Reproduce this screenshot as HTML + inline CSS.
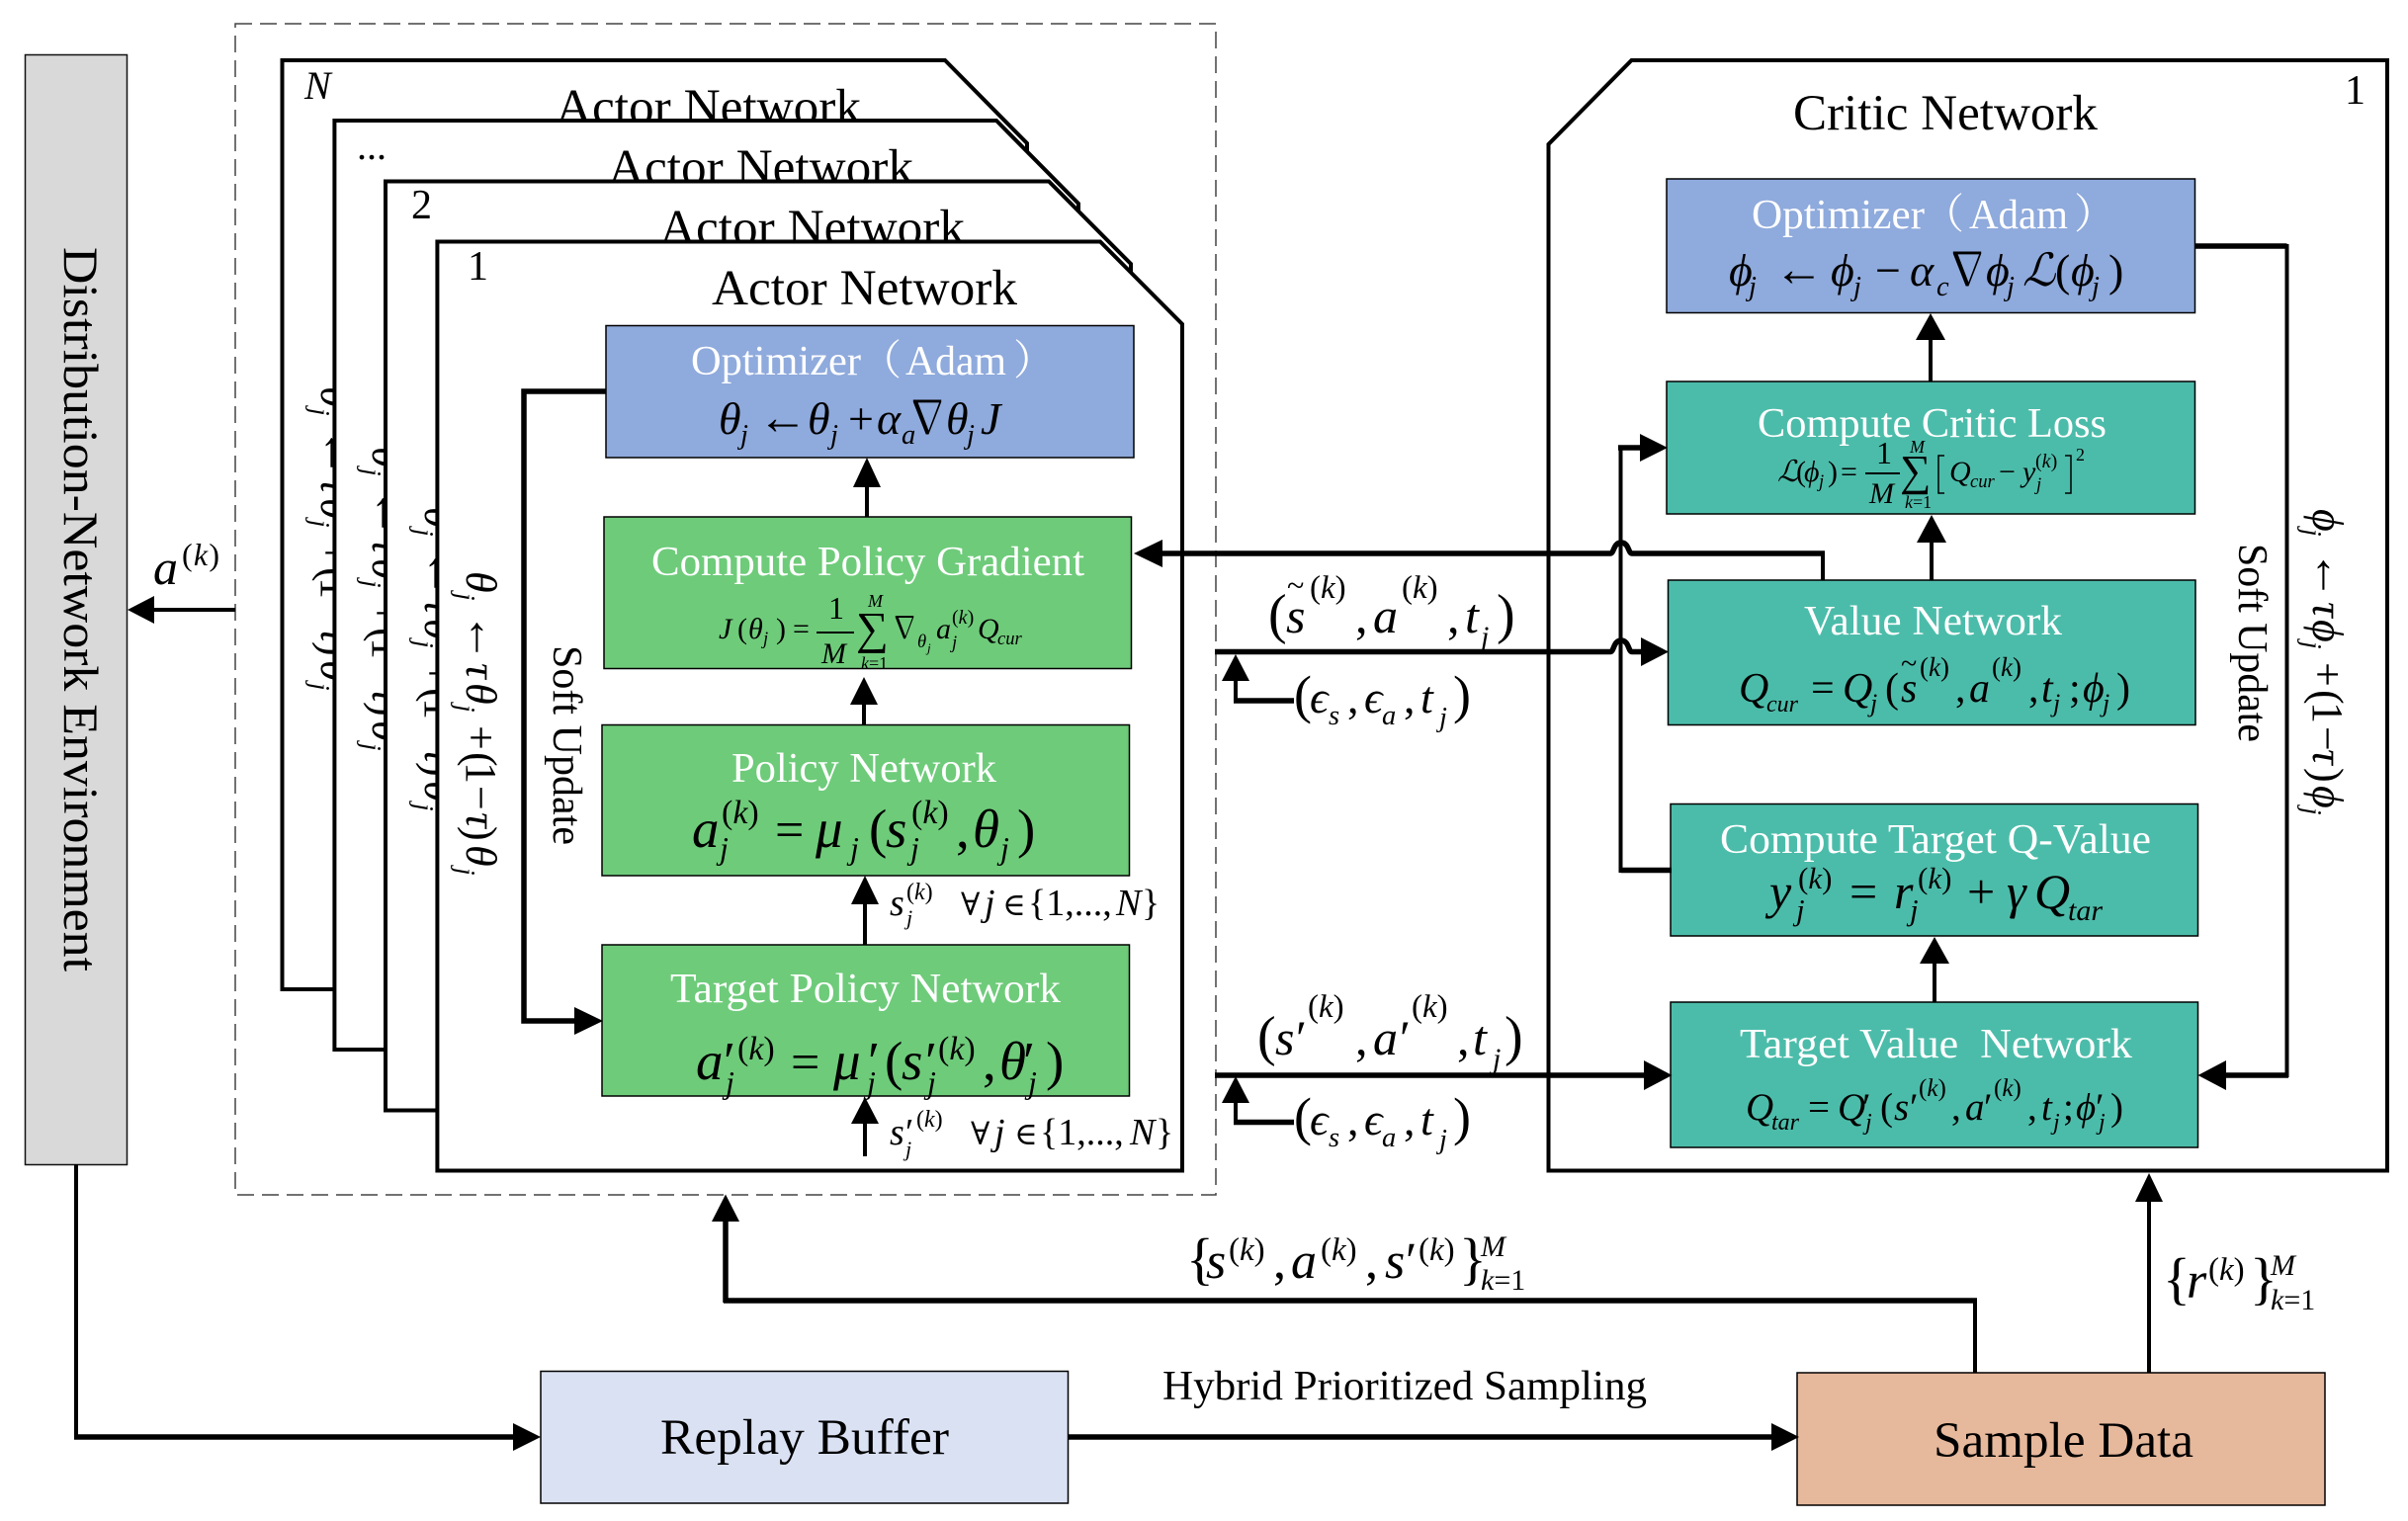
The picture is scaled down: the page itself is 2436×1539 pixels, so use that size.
<!DOCTYPE html>
<html><head><meta charset="utf-8"><style>
html,body{margin:0;padding:0;background:#fff;width:2436px;height:1539px;overflow:hidden}
svg{display:block}
text{font-family:"Liberation Serif","DejaVu Serif","Noto Serif CJK SC",serif;fill:#000}
.i text,text.i{font-style:italic}
.i .n,.n{font-style:normal}
.s{font-size:.62em}
.w{fill:#fff;font-size:42px}
.b{stroke:#000;stroke-width:1.5}
.l{fill:none;stroke:#000;stroke-width:4}
.h{fill:none;stroke:#000;stroke-width:5.5}
.p{fill:#fff;stroke:#000;stroke-width:4}
.f{font-size:51px}
.g,.i .g{font-family:"Noto Serif CJK SC","Liberation Serif",serif;font-style:normal}
.a{font-size:50px}
</style></head><body>
<svg width="2436" height="1539" viewBox="0 0 2436 1539" xmlns="http://www.w3.org/2000/svg">
<rect x="238" y="24" width="992" height="1185" fill="none" stroke="#444" stroke-width="1.5" stroke-dasharray="17 8"/>

<!-- Environment -->
<rect x="25.5" y="55.5" width="103" height="1123" fill="#d9d9d9" stroke="#111" stroke-width="1.5"/>
<text transform="translate(65,250) rotate(90)" font-size="50" textLength="733" lengthAdjust="spacingAndGlyphs">Distribution-Network Environment</text>
<path class="l" d="M238 617H150"/><polygon points="129,617 156,603 156,631"/>
<g class="i" font-size="50"><text x="155" y="591">a</text><text class="s" x="184" y="572" style="font-size:32px" textLength="38"><tspan class="n">(</tspan>k<tspan class="n">)</tspan></text></g>

<!-- Actor N -->
<polygon class="p" points="285.5,61 956,61 1039,145 1039,1001 285.5,1001"/>
<text x="308" y="100" class="i" font-size="40">N</text>
<text class="f" x="562" y="125" textLength="309" lengthAdjust="spacingAndGlyphs">Actor Network</text>
<g transform="translate(325,391) rotate(90)" class="i" font-size="44"><text x="0" y="0">θ</text><text class="s" x="22" y="10">j</text><text class="n a" x="42" y="-2">←</text><text x="93" y="0">τ</text><text x="113" y="0">θ</text><text class="s" x="135" y="10">j</text><text class="n" x="156" y="0">+</text><text class="n" x="183" y="0">(</text><text class="n" x="193" y="0">1</text><text class="n" x="217" y="0">−</text><text x="244" y="0">τ</text><text class="n" x="258" y="0">)</text><text x="277" y="0">θ</text><text class="s" x="300" y="10">j</text></g>

<!-- Actor ... -->
<polygon class="p" points="338.4,122 1008,122 1091,206 1091,1062 338.4,1062"/>
<text x="361" y="161" font-size="40">...</text>
<text class="f" x="615" y="186" textLength="309" lengthAdjust="spacingAndGlyphs">Actor Network</text>
<g transform="translate(377,452) rotate(90)" class="i" font-size="44"><text x="0" y="0">θ</text><text class="s" x="22" y="10">j</text><text class="n a" x="42" y="-2">←</text><text x="93" y="0">τ</text><text x="113" y="0">θ</text><text class="s" x="135" y="10">j</text><text class="n" x="156" y="0">+</text><text class="n" x="183" y="0">(</text><text class="n" x="193" y="0">1</text><text class="n" x="217" y="0">−</text><text x="244" y="0">τ</text><text class="n" x="258" y="0">)</text><text x="277" y="0">θ</text><text class="s" x="300" y="10">j</text></g>

<!-- Actor 2 -->
<polygon class="p" points="390,183.5 1061,183.5 1144,267 1144,1123.5 390,1123.5"/>
<text x="416" y="221" font-size="42">2</text>
<text class="f" x="667" y="247" textLength="309" lengthAdjust="spacingAndGlyphs">Actor Network</text>
<g transform="translate(430,513) rotate(90)" class="i" font-size="44"><text x="0" y="0">θ</text><text class="s" x="22" y="10">j</text><text class="n a" x="42" y="-2">←</text><text x="93" y="0">τ</text><text x="113" y="0">θ</text><text class="s" x="135" y="10">j</text><text class="n" x="156" y="0">+</text><text class="n" x="183" y="0">(</text><text class="n" x="193" y="0">1</text><text class="n" x="217" y="0">−</text><text x="244" y="0">τ</text><text class="n" x="258" y="0">)</text><text x="277" y="0">θ</text><text class="s" x="300" y="10">j</text></g>

<!-- Actor 1 -->
<polygon class="p" points="442.4,244.5 1113,244.5 1196,328 1196,1184.5 442.4,1184.5"/>
<text x="473" y="283" font-size="42">1</text>
<text class="f" x="720" y="308" textLength="309" lengthAdjust="spacingAndGlyphs">Actor Network</text>
<g transform="translate(472,578) rotate(90)" class="i" font-size="44"><text x="0" y="0">θ</text><text class="s" x="22" y="10">j</text><text class="n a" x="42" y="-2">←</text><text x="93" y="0">τ</text><text x="113" y="0">θ</text><text class="s" x="135" y="10">j</text><text class="n" x="156" y="0">+</text><text class="n" x="183" y="0">(</text><text class="n" x="193" y="0">1</text><text class="n" x="217" y="0">−</text><text x="244" y="0">τ</text><text class="n" x="258" y="0">)</text><text x="277" y="0">θ</text><text class="s" x="300" y="10">j</text></g>
<text transform="translate(560,653) rotate(90)" font-size="42" textLength="202" lengthAdjust="spacingAndGlyphs">Soft Update</text>

<rect class="b" x="613" y="329.5" width="534" height="133.5" fill="#8faadc"/>
<text class="w" x="699" y="379" textLength="172" lengthAdjust="spacingAndGlyphs">Optimizer</text><text class="w g" x="870" y="379">（</text><text class="w" x="916" y="379" textLength="102" lengthAdjust="spacingAndGlyphs">Adam</text><text class="w g" x="1025" y="379">）</text>
<g class="i" font-size="46"><text x="727" y="439">θ</text><text class="s" x="749" y="449">j</text><text class="n a" x="767" y="439">←</text><text x="817" y="439">θ</text><text class="s" x="840" y="449">j</text><text class="n" x="858" y="439">+</text><text x="887" y="439">α</text><text class="s" x="912" y="449">a</text><text class="g" x="915" y="439">∇</text><text x="957" y="439">θ</text><text class="s" x="978" y="449">j</text><text x="992" y="439">J</text></g>

<rect class="b" x="611" y="523" width="533.5" height="153.5" fill="#6ecb7a"/>
<text class="w" x="659" y="582" textLength="438" lengthAdjust="spacingAndGlyphs">Compute Policy Gradient</text>
<g class="i" font-size="30"><text x="727" y="646">J</text><text class="n" x="746" y="646">(</text><text x="757" y="646">θ</text><text class="s" x="772" y="652">j</text><text class="n" x="785" y="646">)</text><text class="n" x="802" y="646">=</text><text class="n" x="838" y="626" font-size="32">1</text><path d="M826 640H864" stroke="#000" stroke-width="2"/><text x="831" y="671">M</text><text class="n" x="866" y="651" style="font-size:46px">∑</text><text x="878" y="614" style="font-size:18px">M</text><text x="871" y="677" style="font-size:18px">k<tspan class="n">=1</tspan></text><text class="g" x="900" y="646">∇</text><text class="s" x="928" y="655">θ</text><text x="938" y="660" style="font-size:13px">j</text><text x="947" y="646">a</text><text x="963" y="631" style="font-size:20px"><tspan class="n">(</tspan>k<tspan class="n">)</tspan></text><text class="s" x="963" y="656">j</text><text x="989" y="646">Q</text><text class="s" x="1009" y="652">cur</text></g>

<rect class="b" x="609" y="733.5" width="533.5" height="152.5" fill="#6ecb7a"/>
<text class="w" x="740" y="791" textLength="268" lengthAdjust="spacingAndGlyphs">Policy Network</text>
<g class="i" font-size="55"><text x="700" y="857">a</text><text x="730" y="833" style="font-size:34px"><tspan class="n">(</tspan>k<tspan class="n">)</tspan></text><text class="s" x="728" y="869" style="font-size:32px">j</text><text class="n" x="784" y="857" style="font-size:52px">=</text><text x="825" y="857">μ</text><text class="s" x="860" y="869" style="font-size:32px">j</text><text class="n" x="879" y="857">(</text><text x="896" y="857">s</text><text x="922" y="833" style="font-size:34px"><tspan class="n">(</tspan>k<tspan class="n">)</tspan></text><text class="s" x="921" y="869" style="font-size:32px">j</text><text class="n" x="967" y="857">,</text><text x="984" y="857">θ</text><text class="s" x="1012" y="869" style="font-size:32px">j</text><text class="n" x="1029" y="857">)</text></g>

<g class="i" font-size="38"><text x="900" y="926">s</text><text x="917" y="910" style="font-size:24px"><tspan class="n">(</tspan>k<tspan class="n">)</tspan></text><text class="s" x="917" y="936" style="font-size:22px">j</text><text class="n" x="972" y="926" style="font-size:32px">∀</text><text x="996" y="926">j</text><text class="n" x="1014" y="926" style="font-size:32px">∈</text><text class="n" x="1040" y="926" style="font-size:38px">{1,...,</text><text x="1129" y="926">N</text><text class="n" x="1155" y="926">}</text></g>

<rect class="b" x="609" y="956" width="533.5" height="153" fill="#6ecb7a"/>
<text class="w" x="678" y="1014" textLength="395" lengthAdjust="spacingAndGlyphs">Target Policy Network</text>
<g class="i" font-size="55"><text x="704" y="1092">a</text><text class="n" x="732" y="1092">′</text><text x="746" y="1072" style="font-size:34px"><tspan class="n">(</tspan>k<tspan class="n">)</tspan></text><text class="s" x="734" y="1106" style="font-size:32px">j</text><text class="n" x="800" y="1092" style="font-size:52px">=</text><text x="843" y="1092">μ</text><text class="n" x="878" y="1092">′</text><text class="s" x="877" y="1106" style="font-size:32px">j</text><text class="n" x="895" y="1092">(</text><text x="912" y="1092">s</text><text class="n" x="936" y="1092">′</text><text x="949" y="1072" style="font-size:34px"><tspan class="n">(</tspan>k<tspan class="n">)</tspan></text><text class="s" x="938" y="1106" style="font-size:32px">j</text><text class="n" x="994" y="1092">,</text><text x="1011" y="1092">θ</text><text class="n" x="1035" y="1092">′</text><text class="s" x="1040" y="1106" style="font-size:32px">j</text><text class="n" x="1058" y="1092">)</text></g>

<g class="i" font-size="38"><text x="900" y="1158">s</text><text class="n" x="916" y="1158">′</text><text x="927" y="1140" style="font-size:24px"><tspan class="n">(</tspan>k<tspan class="n">)</tspan></text><text class="s" x="916" y="1170" style="font-size:22px">j</text><text class="n" x="982" y="1158" style="font-size:32px">∀</text><text x="1006" y="1158">j</text><text class="n" x="1026" y="1158" style="font-size:32px">∈</text><text class="n" x="1052" y="1158" style="font-size:38px">{1,...,</text><text x="1143" y="1158">N</text><text class="n" x="1169" y="1158">}</text></g>

<!-- Actor arrows -->
<path class="l" d="M877 523V485"/><polygon points="877,463 863,493 891,493"/>
<path class="l" d="M874 733V705"/><polygon points="874,685 860,713 888,713"/>
<path class="l" d="M875 956V905"/><polygon points="875,886 861,915 889,915"/>
<path class="l" d="M875 1170V1130"/><polygon points="875,1110 861,1137 889,1137"/>
<path class="h" d="M613 396H530V1033H590"/><polygon points="610,1033 581,1019 581,1047"/>

<!-- Critic -->
<polygon class="p" points="1650.5,61 2415,61 2415,1184.5 1566.5,1184.5 1566.5,146"/>
<text class="f" x="1814" y="131" textLength="308" lengthAdjust="spacingAndGlyphs">Critic Network</text>
<text x="2372" y="105" font-size="42">1</text>

<rect class="b" x="1686" y="181" width="534.5" height="135.5" fill="#8faadc"/>
<text class="w" x="1772" y="231" textLength="175" lengthAdjust="spacingAndGlyphs">Optimizer</text><text class="w g" x="1945" y="231">（</text><text class="w" x="1992" y="231" textLength="100" lengthAdjust="spacingAndGlyphs">Adam</text><text class="w g" x="2098" y="231">）</text>
<g class="i" font-size="46"><text x="1749" y="289">ϕ</text><text class="s" x="1769" y="299">j</text><text class="n a" x="1795" y="289">←</text><text x="1852" y="289">ϕ</text><text class="s" x="1875" y="299">j</text><text class="n" x="1897" y="289">−</text><text x="1932" y="289">α</text><text class="s" x="1959" y="299">c</text><text class="g" x="1967" y="289">∇</text><text x="2009" y="289">ϕ</text><text class="s" x="2030" y="299">j</text><text x="2046" y="289">ℒ</text><text class="n" x="2079" y="289">(</text><text x="2095" y="289">ϕ</text><text class="s" x="2116" y="299">j</text><text class="n" x="2133" y="289">)</text></g>

<rect class="b" x="1686" y="386" width="534.5" height="134" fill="#4cbcaa"/>
<text class="w" x="1778" y="442" textLength="353" lengthAdjust="spacingAndGlyphs">Compute Critic Loss</text>
<g class="i" font-size="30"><text x="1798" y="487">ℒ</text><text class="n" x="1817" y="487">(</text><text x="1825" y="487">ϕ</text><text class="s" x="1840" y="493">j</text><text class="n" x="1849" y="487">)</text><text class="n" x="1862" y="487">=</text><text class="n" x="1898" y="469" font-size="32">1</text><path d="M1887 479H1922" stroke="#000" stroke-width="2"/><text x="1891" y="509">M</text><text class="n" x="1922" y="491" style="font-size:44px">∑</text><text x="1932" y="458" style="font-size:18px">M</text><text x="1927" y="514" style="font-size:18px">k<tspan class="n">=1</tspan></text><text x="1972" y="487">Q</text><text class="s" x="1993" y="493">cur</text><text class="n" x="2022" y="487">−</text><text x="2046" y="487">y</text><text x="2059" y="473" style="font-size:20px"><tspan class="n">(</tspan>k<tspan class="n">)</tspan></text><text class="s" x="2060" y="496">j</text><text class="n" x="2100" y="466" style="font-size:18px">2</text><path d="M1967 461H1961V499H1967M2089 461H2095V499H2089" fill="none" stroke="#000" stroke-width="1.5"/></g>

<rect class="b" x="1687.5" y="587" width="533.5" height="146.5" fill="#4cbcaa"/>
<text class="w" x="1825" y="642" textLength="261" lengthAdjust="spacingAndGlyphs">Value Network</text>
<g class="i" font-size="42"><text x="1759" y="710">Q</text><text class="s" x="1787" y="720" style="font-size:24px">cur</text><text class="n" x="1832" y="710">=</text><text x="1864" y="710">Q</text><text class="s" x="1892" y="720" style="font-size:26px">j</text><text class="n" x="1907" y="710">(</text><text x="1923" y="710">s</text><text class="n" x="1923" y="681" style="font-size:30px">~</text><text x="1942" y="684" style="font-size:27px"><tspan class="n">(</tspan>k<tspan class="n">)</tspan></text><text class="n" x="1978" y="710">,</text><text x="1992" y="710">a</text><text x="2015" y="684" style="font-size:27px"><tspan class="n">(</tspan>k<tspan class="n">)</tspan></text><text class="n" x="2052" y="710">,</text><text x="2065" y="710">t</text><text class="s" x="2077" y="720" style="font-size:26px">j</text><text class="n" x="2093" y="710">;</text><text x="2107" y="710">ϕ</text><text class="s" x="2127" y="720" style="font-size:26px">j</text><text class="n" x="2141" y="710">)</text></g>

<rect class="b" x="1690" y="813.5" width="533.5" height="133.5" fill="#4cbcaa"/>
<text class="w" x="1740" y="863" textLength="436" lengthAdjust="spacingAndGlyphs">Compute Target Q-Value</text>
<g class="i" font-size="50"><text x="1790" y="919">y</text><text x="1819" y="899" style="font-size:31px"><tspan class="n">(</tspan>k<tspan class="n">)</tspan></text><text class="s" x="1817" y="931">j</text><text class="n" x="1871" y="919">=</text><text x="1916" y="919">r</text><text x="1940" y="899" style="font-size:31px"><tspan class="n">(</tspan>k<tspan class="n">)</tspan></text><text class="s" x="1932" y="931">j</text><text class="n" x="1990" y="919">+</text><text x="2030" y="919">γ</text><text x="2058" y="919">Q</text><text class="s" x="2092" y="931" style="font-size:30px">tar</text></g>

<rect class="b" x="1690" y="1014" width="533.5" height="147" fill="#4cbcaa"/>
<text class="w" x="1760" y="1070" textLength="397" lengthAdjust="spacingAndGlyphs" xml:space="preserve">Target Value  Network</text>
<g class="i" font-size="39"><text x="1766" y="1133">Q</text><text class="s" x="1792" y="1143" style="font-size:24px">tar</text><text class="n" x="1829" y="1133">=</text><text x="1859" y="1133">Q</text><text class="n" x="1884" y="1133">′</text><text class="s" x="1887" y="1143" style="font-size:24px">j</text><text class="n" x="1902" y="1133">(</text><text x="1916" y="1133">s</text><text class="n" x="1932" y="1133">′</text><text x="1941" y="1109" style="font-size:25px"><tspan class="n">(</tspan>k<tspan class="n">)</tspan></text><text class="n" x="1974" y="1133">,</text><text x="1988" y="1133">a</text><text class="n" x="2007" y="1133">′</text><text x="2017" y="1109" style="font-size:25px"><tspan class="n">(</tspan>k<tspan class="n">)</tspan></text><text class="n" x="2051" y="1133">,</text><text x="2065" y="1133">t</text><text class="s" x="2077" y="1143" style="font-size:24px">j</text><text class="n" x="2087" y="1133">;</text><text x="2100" y="1133">ϕ</text><text class="n" x="2120" y="1133">′</text><text class="s" x="2123" y="1143" style="font-size:24px">j</text><text class="n" x="2135" y="1133">)</text></g>

<text transform="translate(2265,550) rotate(90)" font-size="42" textLength="201" lengthAdjust="spacingAndGlyphs">Soft Update</text>
<g transform="translate(2340,515) rotate(90)" class="i" font-size="44"><text x="0" y="0">ϕ</text><text class="s" x="20" y="10">j</text><text class="n a" x="42" y="-2">←</text><text x="94" y="0">τ</text><text x="112" y="0">ϕ</text><text class="s" x="134" y="10">j</text><text class="n" x="155" y="0">+</text><text class="n" x="183" y="0">(</text><text class="n" x="195" y="0">1</text><text class="n" x="220" y="0">−</text><text x="243" y="0">τ</text><text class="n" x="262" y="0">)</text><text x="280" y="0">ϕ</text><text class="s" x="302" y="10">j</text></g>

<!-- Critic arrows -->
<path class="l" d="M1953 386V340"/><polygon points="1953,317 1938,344 1968,344"/>
<path class="l" d="M1954 587V545"/><polygon points="1954,521 1939,549 1969,549"/>
<path class="l" d="M1957 1014V970"/><polygon points="1957,948 1942,975 1972,975"/>
<path d="M2220 249H2313.5" class="h"/><path d="M2313.5 247V1090" class="l"/><path d="M2315 1088H2245" class="h"/><polygon points="2223.5,1088 2252,1073 2252,1103"/>

<!-- Loss feed -->
<path d="M1691 880.5H1639.5" class="h"/><path d="M1639.5 883V451" class="l"/><path d="M1637 453H1665" class="h"/><polygon points="1687,453 1659,439 1659,467"/>

<!-- Cross lines -->
<path class="l" d="M1844 587V560"/>
<path class="h" d="M1846 560H1651C1647 560 1648 549 1640 549C1632 549 1633 560 1629 560H1170"/><polygon points="1147,560 1176,546 1176,574"/>
<path class="h" d="M1229 659.5H1629C1633 659.5 1632 648 1640 648C1648 648 1647 659.5 1651 659.5H1665"/><polygon points="1688,659.5 1660,645 1660,674"/>
<path class="h" d="M1229 1088H1670"/><polygon points="1691.5,1088 1663,1073 1663,1103"/>

<path class="l" d="M1250 680V709"/><path class="h" d="M1248 709H1309"/><polygon points="1250,662 1236,689 1264,689"/>
<path class="l" d="M1250 1106V1135.5"/><path class="h" d="M1248 1135.5H1309"/><polygon points="1250,1089 1236,1116 1264,1116"/>

<!-- s~ label -->
<g class="i" font-size="50"><text class="n" x="1283" y="640" style="font-size:56px">(</text><text x="1301" y="640">s</text><text class="n" x="1302" y="603" style="font-size:32px">~</text><text x="1325" y="605" style="font-size:33px"><tspan class="n">(</tspan>k<tspan class="n">)</tspan></text><text class="n" x="1371" y="640">,</text><text x="1389" y="640">a</text><text x="1418" y="605" style="font-size:33px"><tspan class="n">(</tspan>k<tspan class="n">)</tspan></text><text class="n" x="1464" y="640">,</text><text x="1482" y="640">t</text><text class="s" x="1498" y="654" style="font-size:30px">j</text><text class="n" x="1514" y="640" style="font-size:56px">)</text></g>
<g class="i" font-size="46"><text class="n" x="1309" y="721" style="font-size:54px">(</text><text x="1325" y="721">ϵ</text><text class="s" x="1344" y="733">s</text><text class="n" x="1363" y="721">,</text><text x="1380" y="721">ϵ</text><text class="s" x="1398" y="733">a</text><text class="n" x="1420" y="721">,</text><text x="1437" y="721">t</text><text class="s" x="1456" y="735">j</text><text class="n" x="1470" y="721" style="font-size:54px">)</text></g>
<g class="i" font-size="50"><text class="n" x="1272" y="1067" style="font-size:56px">(</text><text x="1290" y="1067">s</text><text class="n" x="1311" y="1067">′</text><text x="1323" y="1029" style="font-size:33px"><tspan class="n">(</tspan>k<tspan class="n">)</tspan></text><text class="n" x="1371" y="1067">,</text><text x="1389" y="1067">a</text><text class="n" x="1416" y="1067">′</text><text x="1428" y="1029" style="font-size:33px"><tspan class="n">(</tspan>k<tspan class="n">)</tspan></text><text class="n" x="1474" y="1067">,</text><text x="1490" y="1067">t</text><text class="s" x="1510" y="1081" style="font-size:30px">j</text><text class="n" x="1522" y="1067" style="font-size:56px">)</text></g>
<g class="i" font-size="46"><text class="n" x="1309" y="1148" style="font-size:54px">(</text><text x="1325" y="1148">ϵ</text><text class="s" x="1344" y="1160">s</text><text class="n" x="1363" y="1148">,</text><text x="1380" y="1148">ϵ</text><text class="s" x="1398" y="1160">a</text><text class="n" x="1420" y="1148">,</text><text x="1437" y="1148">t</text><text class="s" x="1456" y="1162">j</text><text class="n" x="1470" y="1148" style="font-size:54px">)</text></g>

<!-- Bottom -->
<rect class="b" x="547" y="1387.5" width="533.5" height="133.5" fill="#dae1f3"/>
<text x="668" y="1471" font-size="51" textLength="292" lengthAdjust="spacingAndGlyphs">Replay Buffer</text>
<rect class="b" x="1818" y="1389" width="534" height="134" fill="#e6b89c"/>
<text x="1956" y="1474" font-size="51" textLength="263" lengthAdjust="spacingAndGlyphs">Sample Data</text>
<text x="1176" y="1416" font-size="42" textLength="490" lengthAdjust="spacingAndGlyphs">Hybrid Prioritized Sampling</text>

<path class="l" d="M77 1178V1456"/><path class="h" d="M75 1454H525"/><polygon points="547,1454 519,1440 519,1468"/>
<path class="h" d="M1081 1454H1798"/><polygon points="1820,1454 1792,1440 1792,1468"/>
<path class="l" d="M1998 1389V1314"/><path class="h" d="M2000 1316H732"/><path class="h" d="M734 1318V1228"/><polygon points="734,1208.5 720,1236 748,1236"/>
<path class="l" d="M2174 1389V1210"/><polygon points="2174,1187 2160,1216 2188,1216"/>

<g class="i" font-size="52"><text class="n" x="1200" y="1293" style="font-size:58px">{</text><text x="1220" y="1293">s</text><text x="1243" y="1275" style="font-size:33px"><tspan class="n">(</tspan>k<tspan class="n">)</tspan></text><text class="n" x="1288" y="1293">,</text><text x="1306" y="1293">a</text><text x="1336" y="1275" style="font-size:33px"><tspan class="n">(</tspan>k<tspan class="n">)</tspan></text><text class="n" x="1381" y="1293">,</text><text x="1401" y="1293">s</text><text class="n" x="1422" y="1293">′</text><text x="1435" y="1275" style="font-size:33px"><tspan class="n">(</tspan>k<tspan class="n">)</tspan></text><text class="n" x="1476" y="1293" style="font-size:58px">}</text><text x="1498" y="1271" style="font-size:30px">M</text><text x="1498" y="1305" style="font-size:30px">k<tspan class="n">=1</tspan></text></g>
<g class="i" font-size="52"><text class="n" x="2188" y="1313" style="font-size:58px">{</text><text x="2212" y="1313">r</text><text x="2234" y="1295" style="font-size:33px"><tspan class="n">(</tspan>k<tspan class="n">)</tspan></text><text class="n" x="2276" y="1313" style="font-size:58px">}</text><text x="2297" y="1290" style="font-size:30px">M</text><text x="2297" y="1325" style="font-size:30px">k<tspan class="n">=1</tspan></text></g>
</svg>
</body></html>
